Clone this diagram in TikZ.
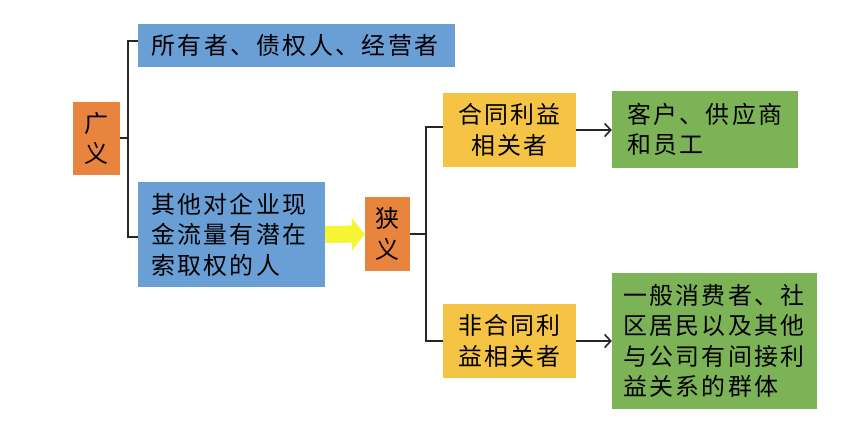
\documentclass[tikz,border=0pt]{standalone}
\usepackage{fontspec}
\setmainfont{Noto Sans CJK SC}[LetterSpace=10]
\usetikzlibrary{arrows.meta}
\definecolor{cblue}{HTML}{6A9FD6}
\definecolor{corange}{HTML}{E9843F}
\definecolor{cgold}{HTML}{F6C445}
\definecolor{cgreen}{HTML}{7DB357}
\definecolor{cyel}{HTML}{F5F536}
\definecolor{cline}{HTML}{262626}
\tikzset{
  box/.style={draw=none, inner sep=0pt, font=\fontsize{24}{30.5}\selectfont, text=black},
  lbox/.style={box, align=left},
  cbox/.style={box, align=center},
  link/.style={draw=cline, line width=1.6bp},
  arr/.style={link, -{Straight Barb[length=6bp,width=13bp]}},
}
\begin{document}
\begin{tikzpicture}[x=1bp,y=-1bp]
\useasboundingbox[fill=white] (0,0) rectangle (862,422);
% left part
\node[cbox, fill=corange, minimum width=47bp, minimum height=73bp] (gy) at (96.5,138.5) {广\\义};
\node[lbox, fill=cblue, minimum width=317bp, minimum height=43bp, text width=290bp] (owner) at (296.5,45.5) {所有者、债权人、经营者};
\node[lbox, fill=cblue, minimum width=187bp, minimum height=105bp, text width=161bp] (other) at (231.5,234.5) {其他对企业现\\金流量有潜在\\索取权的人};
\node[cbox, fill=corange, minimum width=45bp, minimum height=74bp] (xy) at (387.5,234) {狭\\义};
% middle
\node[cbox, fill=cgold, minimum width=133bp, minimum height=74bp] (ht) at (509.5,130) {合同利益\\相关者};
\node[cbox, fill=cgold, minimum width=133bp, minimum height=74bp] (fht) at (509.5,341) {非合同利\\益相关者};
% right
\node[lbox, fill=cgreen, minimum width=186bp, minimum height=77bp, text width=156bp] (kh) at (705,129.5) {客户、供应商\\和员工};
\node[lbox, fill=cgreen, minimum width=205bp, minimum height=136bp, text width=183bp] (gen) at (714.5,341) {一般消费者、社\\区居民以及其他\\与公司有间接利\\益关系的群体};
% brackets
\coordinate (j1) at (128,138);
\draw[link] (gy.east |- j1) -- (j1);
\draw[link] ([yshift=4.5bp]owner.west) -| (j1) |- ([yshift=-2.5bp]other.west);
\coordinate (j2) at (426,234);
\draw[link] (xy.east) -- (j2);
\draw[link] ([yshift=3bp]ht.west) -| (j2) |- (fht.west);
% arrows
\draw[arr] (ht.east) -- (kh.west |- ht.east);
\draw[arr] (fht.east) -- (gen.west |- fht.east);
\draw[cyel, line width=17bp, -{Triangle[length=13bp,width=32bp]}] (other.east) -- (xy.west);
\end{tikzpicture}
\end{document}
